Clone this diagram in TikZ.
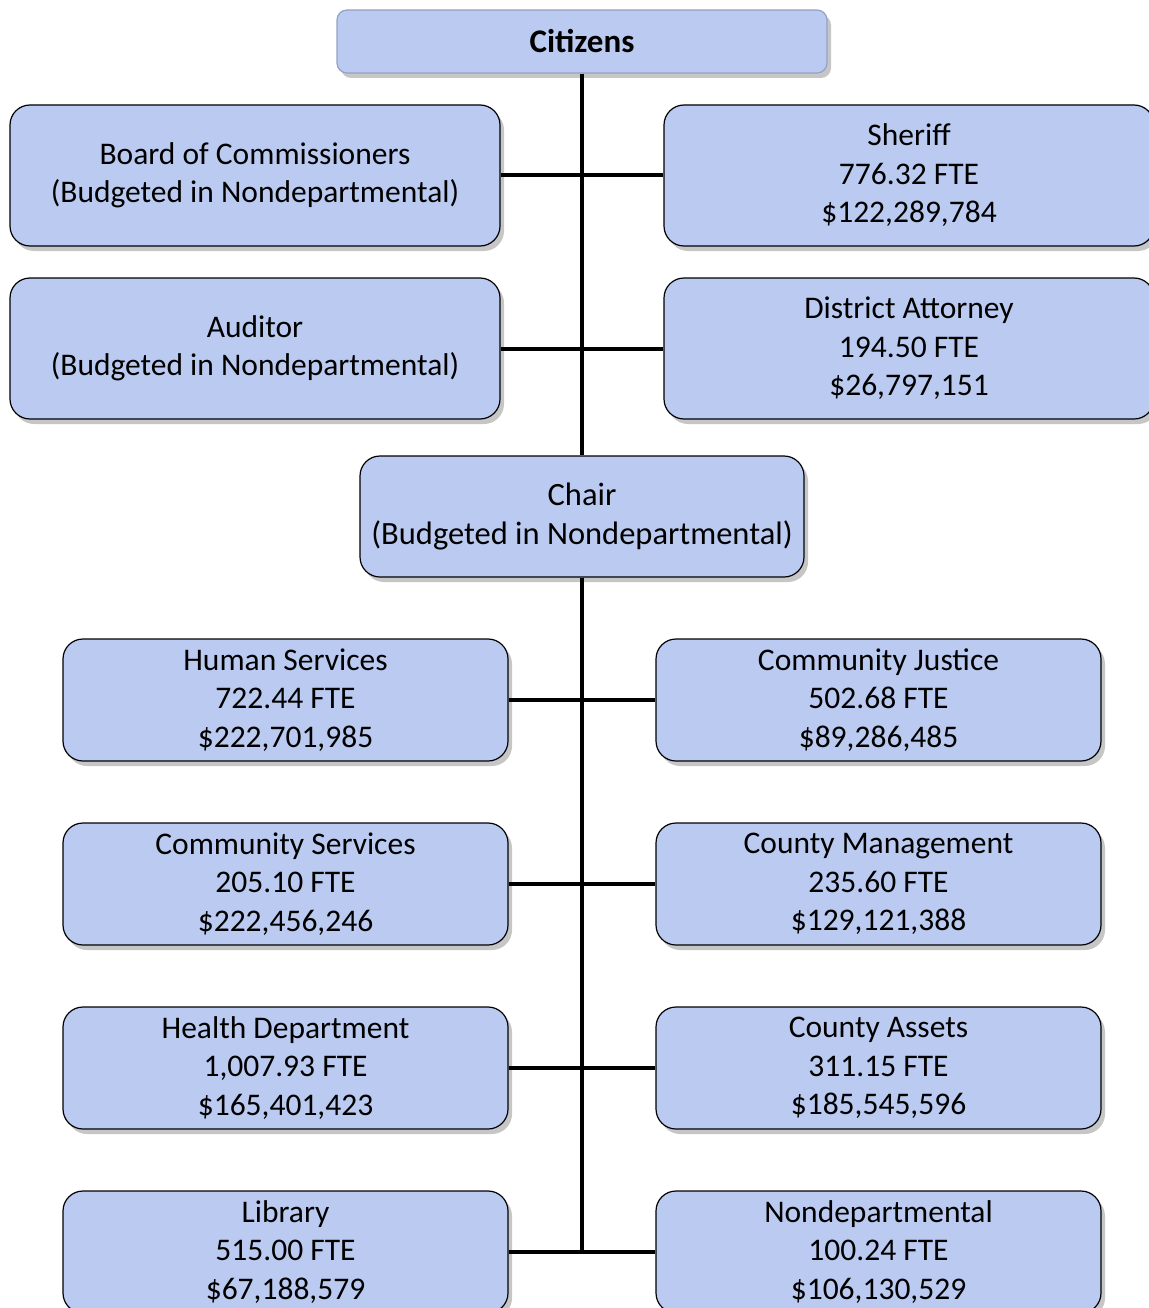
\documentclass[tikz,border=0pt]{standalone}
\usepackage{fontspec}
\setmainfont{Carlito}
\usepackage{xcolor}
\usepackage{tikz}
\usetikzlibrary{shapes,positioning,shadows,calc}
\definecolor{boxblue}{RGB}{186,202,240}
\definecolor{topedge}{RGB}{150,162,196}

\begin{document}
\begin{tikzpicture}[x=1pt, y=-1pt]
  % Org chart styles
  \tikzstyle{unit} = [rectangle, rounded corners=20pt, draw=black, line width=1.2pt, fill=boxblue, minimum width=490pt, minimum height=141pt, align=center, font=\fontsize{31.5}{38.5}\selectfont, drop shadow={shadow xshift=4pt, shadow yshift=-5pt, opacity=0.45}]
  \tikzstyle{dept} = [unit, minimum width=445pt, minimum height=122pt]
  \tikzstyle{link} = [line width=4pt, black]

  \useasboundingbox (0,0) rectangle (1148,1308);

  % Top of the chart
  \node[unit, draw=topedge, minimum width=490pt, minimum height=63pt, rounded corners=10pt, font=\fontsize{33}{38}\selectfont\bfseries] (citizens) at (582, 41.5) {Citizens};

  % Elected offices
  \node[unit] (board) at (255, 175.5) {Board of Commissioners\\(Budgeted in Nondepartmental)};
  \node[unit] (sheriff) at (909, 175.5) {Sheriff\\776.32 FTE\\\$122,289,784};
  \node[unit] (auditor) at (255, 348.5) {Auditor\\(Budgeted in Nondepartmental)};
  \node[unit] (da) at (909, 348.5) {District Attorney\\194.50 FTE\\\$26,797,151};

  % Chair
  \node[unit, minimum width=444pt, minimum height=121pt, font=\fontsize{32.5}{39}\selectfont] (chair) at (582, 516.5) {Chair\\(Budgeted in Nondepartmental)};

  % Departments - left column
  \node[dept] (human) at (285.5, 700) {Human Services\\722.44 FTE\\\$222,701,985};
  \node[dept] (commserv) at (285.5, 884) {Community Services\\205.10 FTE\\\$222,456,246};
  \node[dept] (health) at (285.5, 1068) {Health Department\\1,007.93 FTE\\\$165,401,423};
  \node[dept] (library) at (285.5, 1252) {Library\\515.00 FTE\\\$67,188,579};

  % Departments - right column
  \node[dept] (justice) at (878.5, 700) {Community Justice\\502.68 FTE\\\$89,286,485};
  \node[dept] (mgmt) at (878.5, 884) {County Management\\235.60 FTE\\\$129,121,388};
  \node[dept] (assets) at (878.5, 1068) {County Assets\\311.15 FTE\\\$185,545,596};
  \node[dept] (nondept) at (878.5, 1252) {Nondepartmental\\100.24 FTE\\\$106,130,529};

  % Connectors
  \coordinate (spine) at (582, 1252);
  \draw[link] (citizens.south) -- (chair.north);
  \draw[link] (chair.south) -- (spine);
  \draw[link] (board.east) -- (sheriff.west);
  \draw[link] (auditor.east) -- (da.west);
  \draw[link] (human.east) -- (justice.west);
  \draw[link] (commserv.east) -- (mgmt.west);
  \draw[link] (health.east) -- (assets.west);
  \draw[link] (library.east) -- (nondept.west);
\end{tikzpicture}
\end{document}
